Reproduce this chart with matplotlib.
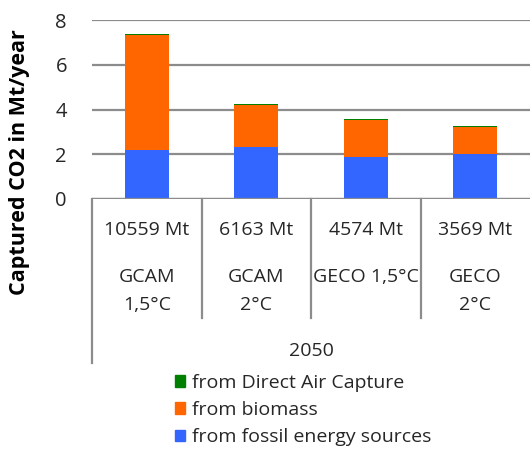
import numpy as np
import matplotlib.pyplot as plt
from matplotlib.lines import Line2D
from matplotlib.patches import Patch

plt.rcParams['font.family'] = ['Open Sans', 'DejaVu Sans']

totals = ['10559 Mt', '6163 Mt', '4574 Mt', '3569 Mt']
scen_top = ['GCAM', 'GCAM', 'GECO 1,5°C', 'GECO']
scen_bottom = ['1,5°C', '2°C', '', '2°C']
year = '2050'
fossil = [2.20, 2.31, 1.86, 2.02]
biomass = [5.14, 1.90, 1.68, 1.21]
dac = [0.04, 0.05, 0.04, 0.04]

c_fossil = '#3366FF'
c_bio = '#FF6600'
c_dac = '#008000'
grid_c = '#8C8C8C'
txt_c = '#262626'

W, H = 532, 455
fig = plt.figure(figsize=(W / 100, H / 100), dpi=100)
ax = fig.add_axes([92 / W, 1 - 199 / H, 438 / W, 179 / H])
AH = 179.0

x = np.arange(len(totals))
bw = 0.4
f = np.array(fossil)
b = np.array(biomass)
d = np.array(dac)
ax.bar(x, f, bw, color=c_fossil, zorder=3)
ax.bar(x, b, bw, bottom=f, color=c_bio, zorder=3)
ax.bar(x, d, bw, bottom=f + b, color=c_dac, zorder=3)

ax.set_xlim(-0.5, 3.5)
ax.set_ylim(0, 8)
ax.set_yticks([0, 2, 4, 6, 8])
ax.yaxis.grid(True, color=grid_c, linewidth=1.6, zorder=0)
ax.set_xticks([])
ax.tick_params(axis='y', length=0, labelsize=14.5, colors=txt_c, pad=18)
for s in ax.spines.values():
    s.set_visible(False)

# category axis: baseline plus separators below the bars
ax.axhline(0, color=grid_c, linewidth=1.6, zorder=4)
tr = ax.get_xaxis_transform()
for xi in [0.5, 1.5, 2.5]:
    ax.add_line(Line2D([xi, xi], [0, -119 / AH], transform=tr,
                       color=grid_c, linewidth=1.6, clip_on=False))
ax.add_line(Line2D([-0.5, -0.5], [0, -164 / AH], transform=tr,
                   color=grid_c, linewidth=1.6, clip_on=False))

for i in x:
    ax.text(i, -31 / AH, totals[i], transform=tr, ha='center', va='center',
            fontsize=14, color=txt_c)
    ax.text(i, -78 / AH, scen_top[i], transform=tr, ha='center', va='center',
            fontsize=14, color=txt_c)
    ax.text(i, -106 / AH, scen_bottom[i], transform=tr, ha='center', va='center',
            fontsize=14, color=txt_c)
ax.text(1.5, -152 / AH, year, transform=tr, ha='center', va='center',
        fontsize=14, color=txt_c)

fig.text(20 / W, 1 - 162 / H, 'Captured CO2 in Mt/year', rotation=90,
         ha='center', va='center', fontsize=15.5, fontweight='bold', color='black')

handles = [Patch(color=c_dac), Patch(color=c_bio), Patch(color=c_fossil)]
labels = ['from Direct Air Capture', 'from biomass', 'from fossil energy sources']
fig.legend(handles, labels, loc='center left', bbox_to_anchor=(157 / W, 1 - 410 / H),
           frameon=False, fontsize=14, handlelength=0.55, handleheight=0.55,
           handletextpad=0.35, labelspacing=0.48, labelcolor=txt_c)

fig.savefig('out.png', dpi=100)
